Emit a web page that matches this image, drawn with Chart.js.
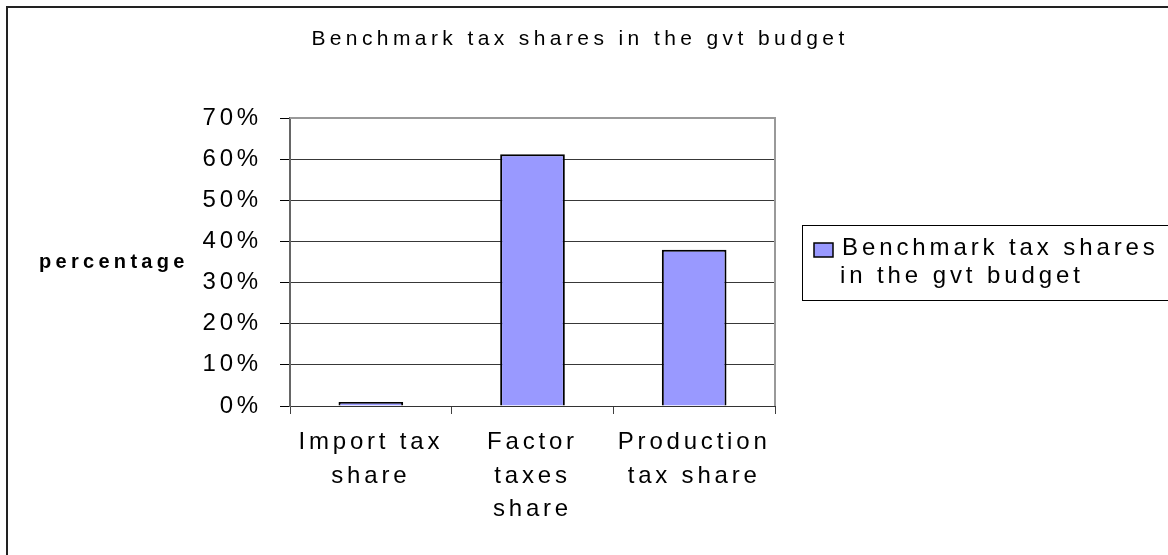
<!DOCTYPE html>
<html>
<head>
<meta charset="utf-8">
<script src="https://cdn.jsdelivr.net/npm/chart.js@4"></script>
<style>
  html, body { margin: 0; padding: 0; background: #fff; }
  canvas { display: block; }
</style>
</head>
<body>
<canvas id="taxChart" width="1168" height="555"></canvas>
<script>
const chartTitle = "Benchmark tax shares in the gvt budget";
const seriesLabel = "Benchmark tax shares in the gvt budget";
const categories = [["Import tax", "share"], ["Factor", "taxes", "share"], ["Production", "tax share"]];
const shareValues = [1.0, 61.2, 38.0];
const yTicks = [0, 10, 20, 30, 40, 50, 60, 70];
const yAxisLabel = "percentage";

const FONT = "'Liberation Sans', Arial, sans-serif";
const barFill = "#9999ff";

// wrap a label into lines no wider than maxWidth
function wrapText(ctx, text, maxWidth) {
  const words = text.split(" ");
  const lines = [];
  let line = "";
  words.forEach((w) => {
    const test = line ? line + " " + w : w;
    if (line && ctx.measureText(test).width > maxWidth) {
      lines.push(line);
      line = w;
    } else {
      line = test;
    }
  });
  if (line) lines.push(line);
  return lines;
}

// frame, title, axis caption and legend in the old spreadsheet look
const decorPlugin = {
  id: "decor",
  beforeDraw(chart) {
    const ctx = chart.ctx;
    ctx.save();
    ctx.fillStyle = "#fff";
    ctx.fillRect(0, 0, chart.width, chart.height);
    ctx.restore();
    ctx.letterSpacing = "3.8px";
  },
  afterDraw(chart) {
    const ctx = chart.ctx;
    const area = chart.chartArea;
    ctx.save();

    // outer chart frame (right and bottom run off the picture)
    ctx.strokeStyle = "#222";
    ctx.lineWidth = 2;
    ctx.strokeRect(7, 7, 1300, 700);

    // plot area top and right edges
    ctx.strokeStyle = "#999";
    ctx.lineWidth = 2;
    ctx.beginPath();
    ctx.moveTo(area.left, area.top);
    ctx.lineTo(area.right, area.top);
    ctx.lineTo(area.right, area.bottom);
    ctx.stroke();

    // title
    ctx.fillStyle = "#000";
    ctx.letterSpacing = "4.4px";
    ctx.font = "21px " + FONT;
    ctx.textAlign = "center";
    ctx.textBaseline = "alphabetic";
    ctx.fillText(chartTitle, 580, 45);

    // horizontal axis caption
    ctx.letterSpacing = "4.3px";
    ctx.font = "bold 20px " + FONT;
    ctx.textAlign = "left";
    ctx.fillText(yAxisLabel, 39, 268);

    // legend box
    ctx.strokeStyle = "#000";
    ctx.lineWidth = 1;
    ctx.strokeRect(802.5, 225.5, 400, 75);
    ctx.fillStyle = barFill;
    ctx.fillRect(814, 243, 19, 14);
    ctx.lineWidth = 1.5;
    ctx.strokeRect(814, 243, 19, 14);

    ctx.fillStyle = "#000";
    ctx.letterSpacing = "3.9px";
    ctx.font = "24px " + FONT;
    const lines = wrapText(ctx, chart.data.datasets[0].label, 330);
    lines.forEach((ln, i) => {
      ctx.fillText(ln, i === 0 ? 842 : 840, 255 + i * 28);
    });

    ctx.restore();
    ctx.letterSpacing = "0px";
  },
};

const ctx = document.getElementById("taxChart").getContext("2d");

window.taxChart = new Chart(ctx, {
  type: "bar",
  data: {
    labels: categories,
    datasets: [
      {
        label: seriesLabel,
        data: shareValues,
        backgroundColor: barFill,
        borderColor: "#000",
        borderWidth: 2,
        barPercentage: 0.4,
        categoryPercentage: 1,
      },
    ],
  },
  options: {
    responsive: false,
    animation: false,
    layout: {
      padding: { top: 118, right: 393, bottom: 0, left: 0 },
    },
    plugins: {
      legend: { display: false },
      title: { display: false },
      tooltip: { enabled: false },
    },
    scales: {
      x: {
        type: "category",
        grid: {
          offset: true,
          drawOnChartArea: false,
          drawTicks: true,
          tickLength: 8,
          color: "#404040",
        },
        border: { color: "#333", width: 1 },
        ticks: {
          color: "#000",
          font: { family: FONT, size: 24, lineHeight: 1.39 },
          padding: 12,
          maxRotation: 0,
          autoSkip: false,
        },
        afterFit(scale) {
          scale.height = 149;
        },
      },
      y: {
        min: 0,
        max: 70,
        afterBuildTicks(scale) {
          scale.ticks = yTicks.map((v) => ({ value: v }));
        },
        grid: {
          color: (c) => (c.tick && c.tick.value === 70 ? "rgba(0,0,0,0)" : "#383838"),
          tickColor: "#000",
          tickLength: 10,
          lineWidth: 1,
        },
        border: { color: "#666", width: 2 },
        ticks: {
          color: "#000",
          font: { family: FONT, size: 24 },
          padding: 18,
          callback: (v) => v + "%",
        },
        afterFit(scale) {
          scale.width = 290;
        },
      },
    },
  },
  plugins: [decorPlugin],
});
</script>
</body>
</html>
